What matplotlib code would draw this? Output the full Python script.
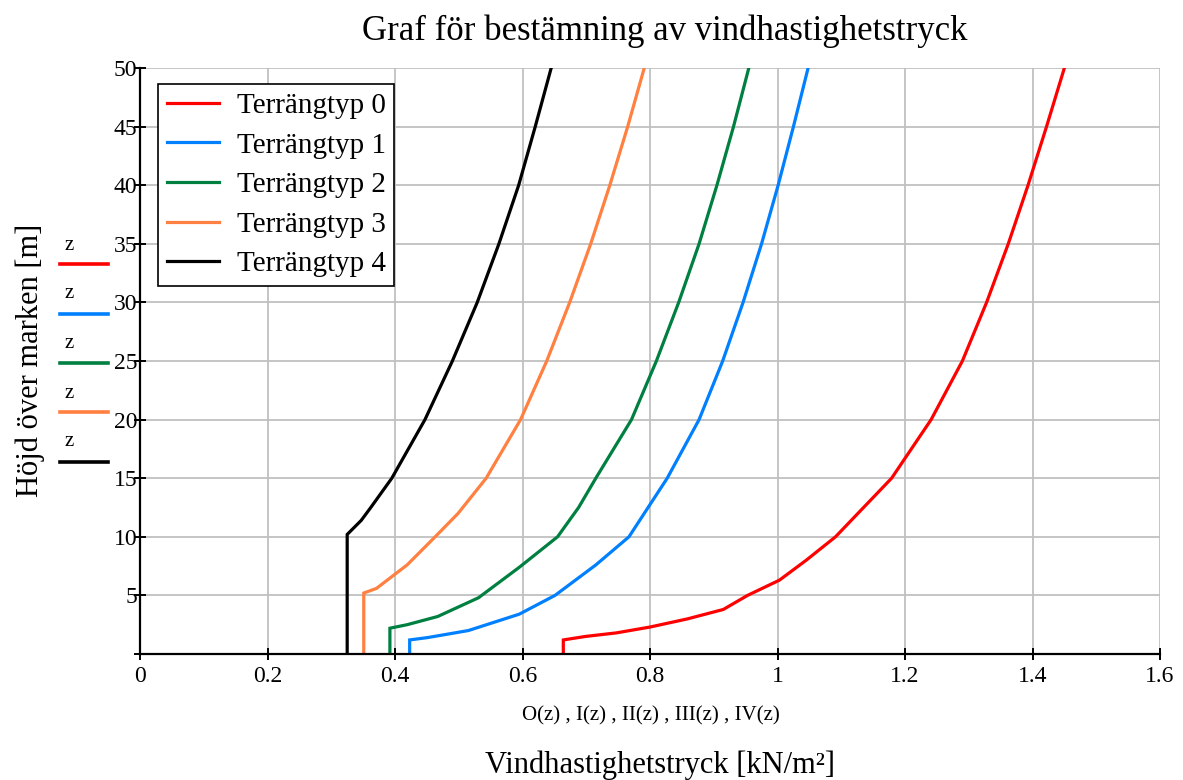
import numpy as np
import matplotlib
matplotlib.use("Agg")
import matplotlib.pyplot as plt
from matplotlib.lines import Line2D

plt.rcParams['font.family'] = ['Liberation Serif', 'DejaVu Serif']

# values (height z in m, pressure in kN/m2)
z_t0 = [0, 1.2, 1.5, 1.8, 2.3, 3.0, 3.8, 5, 6.3, 8, 10, 12.5, 15, 20, 25, 30, 35, 40, 45, 50]
q_t0 = [0.664, 0.664, 0.699, 0.747, 0.800, 0.859, 0.915, 0.953, 1.003, 1.045, 1.091,
        1.135, 1.179, 1.241, 1.290, 1.328, 1.362, 1.393, 1.422, 1.450]

z_t1 = [0, 1.2, 1.4, 2.0, 3.4, 5, 7.6, 10, 12.5, 15, 20, 25, 30, 35, 40, 45, 50]
q_t1 = [0.423, 0.423, 0.451, 0.515, 0.595, 0.651, 0.715, 0.767, 0.797, 0.827, 0.877,
        0.914, 0.946, 0.975, 1.001, 1.025, 1.048]

z_t2 = [0, 2.2, 2.5, 3.2, 4.8, 7.4, 10, 12.5, 15, 20, 25, 30, 35, 40, 45, 50]
q_t2 = [0.392, 0.392, 0.419, 0.467, 0.531, 0.595, 0.655, 0.688, 0.715, 0.771, 0.810,
        0.845, 0.877, 0.905, 0.931, 0.955]

z_t3 = [0, 5.2, 5.6, 7.6, 10, 12, 15, 20, 25, 30, 35, 40, 45, 50]
q_t3 = [0.351, 0.351, 0.371, 0.419, 0.463, 0.499, 0.543, 0.597, 0.638, 0.674, 0.707,
        0.737, 0.765, 0.791]

z_t4 = [0, 10.2, 11.4, 12.5, 15, 20, 25, 30, 35, 40, 45, 50]
q_t4 = [0.325, 0.325, 0.347, 0.362, 0.395, 0.447, 0.490, 0.529, 0.563, 0.594, 0.620, 0.645]

labels = ["Terrängtyp 0", "Terrängtyp 1", "Terrängtyp 2", "Terrängtyp 3", "Terrängtyp 4"]
colors = ["#ff0000", "#0080ff", "#008040", "#ff8040", "#000000"]

x_ticks = [0, 0.2, 0.4, 0.6, 0.8, 1.0, 1.2, 1.4, 1.6]
x_ticklabels = ["0", "0.2", "0.4", "0.6", "0.8", "1", "1.2", "1.4", "1.6"]
y_ticks = [0, 5, 10, 15, 20, 25, 30, 35, 40, 45, 50]
y_ticklabels = ["", "5", "10", "15", "20", "25", "30", "35", "40", "45", "50"]

fig = plt.figure(figsize=(11.83, 7.80), dpi=100)
ax = fig.add_axes([140/1183, 1-654/780, 1020/1183, 586/780])

series = [(q_t0, z_t0), (q_t1, z_t1), (q_t2, z_t2), (q_t3, z_t3), (q_t4, z_t4)]
for (q, z), lab, col in zip(series, labels, colors):
    ax.plot(q, z, color=col, lw=2.3, label=lab, solid_joinstyle='miter')

ax.set_xlim(0, 1.6)
ax.set_ylim(0, 50)
ax.set_xticks(x_ticks)
ax.set_xticklabels(x_ticklabels)
ax.set_yticks(y_ticks)
ax.set_yticklabels(y_ticklabels)
ax.grid(True, color="#c0c0c0", lw=1.3)
ax.set_axisbelow(True)
for s in ["top", "right"]:
    ax.spines[s].set_visible(False)
for s in ["left", "bottom"]:
    ax.spines[s].set_linewidth(1.6)
ax.tick_params(axis='x', direction='inout', length=9, width=1.4, labelsize=17, pad=4)
ax.tick_params(axis='y', direction='inout', length=8, width=1.4, labelsize=17, pad=-2)

leg = ax.legend(loc='upper left', bbox_to_anchor=(0.0176, 0.9727), fontsize=21,
                frameon=True, fancybox=False, framealpha=1, edgecolor='black',
                handlelength=1.8, handletextpad=0.6, borderpad=0.3, labelspacing=0.45,
                borderaxespad=0)
leg.get_frame().set_linewidth(1.2)

fig.text(665/1183, 1-31/780, "Graf för bestämning av vindhastighetstryck",
         ha='center', va='center', fontsize=25)
fig.text(651/1183, 1-716/780, "O(z) , I(z) , II(z) , III(z) , IV(z)",
         ha='center', va='center', fontsize=15)
fig.text(660/1183, 1-765/780, "Vindhastighetstryck [kN/m²]",
         ha='center', va='center', fontsize=22)
fig.text(30/1183, 1-360/780, "Höjd över marken [m]", rotation=90,
         ha='center', va='center', fontsize=22)

# small legend markers on the left side (z with coloured strokes)
z_text_y = [245, 294, 343, 393, 442]
z_line_y = [264, 314, 363, 412, 462]
for ty, ly, col in zip(z_text_y, z_line_y, colors):
    fig.text(69/1183, 1-ty/780, "z", ha='center', va='center', fontsize=15)
    fig.add_artist(Line2D([60/1183, 108/1183], [1-ly/780, 1-ly/780],
                          color=col, lw=2.6, transform=fig.transFigure))

fig.savefig("out.png", dpi=100)
